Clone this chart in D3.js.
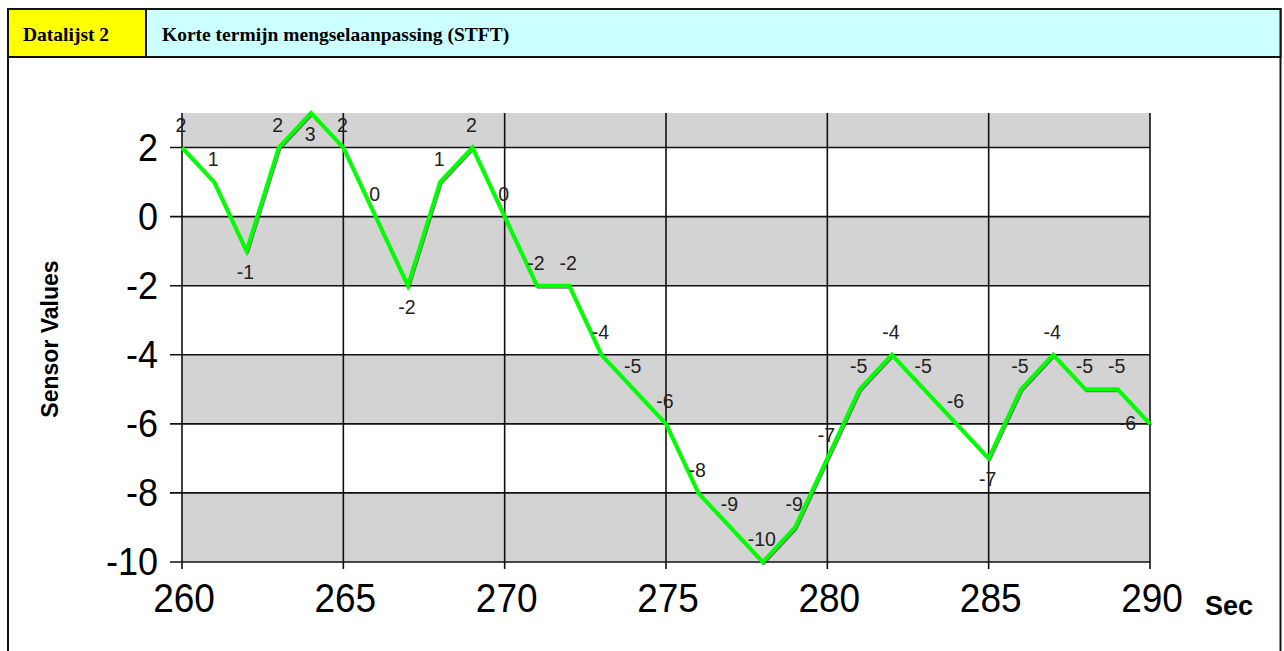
<!DOCTYPE html>
<html>
<head>
<meta charset="utf-8">
<script src="https://cdn.jsdelivr.net/npm/d3@7"></script>
<style>
html,body{margin:0;padding:0;background:#fff;overflow:hidden;}
svg{display:block;}
</style>
</head>
<body>
<svg id="chart" width="1284" height="651"></svg>
<script>
// ---- data ----
const seconds = [260,261,262,263,264,265,266,267,268,269,270,271,272,273,274,275,276,277,278,279,280,281,282,283,284,285,286,287,288,289,290];
const sensorValues = [2,1,-1,2,3,2,0,-2,1,2,0,-2,-2,-4,-5,-6,-8,-9,-10,-9,-7,-5,-4,-5,-6,-7,-5,-4,-5,-5,-6];
const xTicks = [260,265,270,275,280,285,290];
const yTicks = [-10,-8,-6,-4,-2,0,2];
const headerLeft = "Datalijst 2";
const headerTitle = "Korte termijn mengselaanpassing (STFT)";
const xAxisTitle = "Sec";
const yAxisTitle = "Sensor Values";

const data = seconds.map((s,i)=>({s, v: sensorValues[i]}));
const svg = d3.select("#chart");

// ---- frame and header ----
svg.append("rect").attr("x",8).attr("y",9).attr("width",1272.5).attr("height",700)
  .attr("fill","#fff").attr("stroke","#111").attr("stroke-width",2);
svg.append("rect").attr("x",8).attr("y",9).attr("width",138).attr("height",48)
  .attr("fill","#FFFF00").attr("stroke","#111").attr("stroke-width",2);
svg.append("rect").attr("x",146).attr("y",9).attr("width",1134.5).attr("height",48)
  .attr("fill","#CCFFFF").attr("stroke","#111").attr("stroke-width",2);
svg.append("text").attr("x",23).attr("y",41).text(headerLeft)
  .attr("font-family","'Liberation Serif','Times New Roman',serif").attr("font-weight","bold")
  .attr("font-size",19.5).attr("fill","#000");
svg.append("text").attr("x",162).attr("y",41).text(headerTitle)
  .attr("font-family","'Liberation Serif','Times New Roman',serif").attr("font-weight","bold")
  .attr("font-size",19.5).attr("fill","#000");

// ---- scales ----
const x = d3.scaleLinear().domain([260,290]).range([182,1150]);
const y = d3.scaleLinear().domain([-10,3]).range([562,113]);

// ---- alternating bands ----
const bandEdges = [-10,-8,-6,-4,-2,0,2,3];
const g = svg.append("g");
for (let i=0;i<bandEdges.length-1;i++){
  if (i%2===0){
    g.append("rect").attr("x",x(260)).attr("width",x(290)-x(260))
      .attr("y",y(bandEdges[i+1])).attr("height",y(bandEdges[i])-y(bandEdges[i+1]))
      .attr("fill","#D3D3D3");
  }
}

// ---- grid ----
g.selectAll("line.hg").data(yTicks).join("line").attr("class","hg")
  .attr("x1",170).attr("x2",x(290)).attr("y1",d=>y(d)).attr("y2",d=>y(d))
  .attr("stroke","#111").attr("stroke-width",1.6);
g.selectAll("line.vg").data(xTicks).join("line").attr("class","vg")
  .attr("x1",d=>x(d)).attr("x2",d=>x(d)).attr("y1",y(3)).attr("y2",y(-10)+7)
  .attr("stroke","#111").attr("stroke-width",1.6);

// ---- axes labels ----
svg.selectAll("text.yt").data(yTicks).join("text").attr("class","yt")
  .attr("transform",d=>`translate(158,${y(d)+13}) scale(1,1.08)`)
  .attr("text-anchor","end")
  .attr("font-family","'Liberation Sans',Arial,sans-serif").attr("font-size",36)
  .attr("fill","#000").text(d=>String(d));
svg.selectAll("text.xt").data(xTicks).join("text").attr("class","xt")
  .attr("transform",d=>`translate(${x(d)+2},612) scale(1,1.1)`)
  .attr("text-anchor","middle")
  .attr("font-family","'Liberation Sans',Arial,sans-serif").attr("font-size",37)
  .attr("fill","#000").text(d=>d);
svg.append("text").attr("x",1205).attr("y",615).text(xAxisTitle)
  .attr("font-family","'Liberation Sans',Arial,sans-serif").attr("font-weight","bold")
  .attr("font-size",27).attr("fill","#000");
svg.append("text").attr("transform","translate(58,339) rotate(-90)")
  .attr("text-anchor","middle").text(yAxisTitle)
  .attr("font-family","'Liberation Sans',Arial,sans-serif").attr("font-weight","bold")
  .attr("font-size",23).attr("fill","#000");

// ---- line ----
const line = d3.line().x(d=>x(d.s)).y(d=>y(d.v));
svg.append("path").datum(data).attr("d",line)
  .attr("transform","translate(1,1.5)")
  .attr("fill","none").attr("stroke","#444").attr("stroke-width",3).attr("stroke-opacity",0.7)
  .attr("stroke-linejoin","round");
svg.append("path").datum(data).attr("d",line)
  .attr("fill","none").attr("stroke","#00FF00").attr("stroke-width",4)
  .attr("stroke-linejoin","miter");

// ---- data labels ----
const yMin = -10, yMax = 3;
const n = data.length;
svg.selectAll("text.dl").data(data).join("text").attr("class","dl")
  .each(function(d,i){
    const prev = i>0 ? data[i-1].v : Infinity;
    const next = i<n-1 ? data[i+1].v : Infinity;
    const isMin = d.v < prev && d.v < next;
    let dx = -1, dy = -23, anchor = "middle";
    if ((isMin && d.v > yMin) || d.v === yMax) dy = 21;
    if (i === n-1) { dx = -14; dy = -1; anchor = "end"; }
    d3.select(this).attr("x", x(d.s)+dx).attr("y", y(d.v)+dy+7)
      .attr("text-anchor",anchor);
  })
  .attr("font-family","'Liberation Sans',Arial,sans-serif").attr("font-size",19.5)
  .attr("fill","#222").text(d=>String(d.v));
</script>
</body>
</html>
